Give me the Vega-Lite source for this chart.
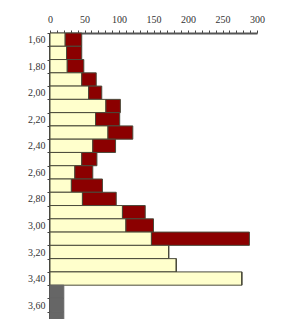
{
  "$schema": "https://vega.github.io/schema/vega-lite/v6.json",
  "width": 207,
  "height": 292,
  "autosize": {"type": "none"},
  "padding": {"left": 50, "top": 33, "right": 43, "bottom": 0},
  "background": "white",
  "config": {
    "view": {"stroke": null},
    "axis": {"labelFont": "Liberation Serif", "labelFontSize": 10, "labelColor": "#333", "tickColor": "#444", "domainColor": "#444", "grid": false, "title": null}
  },
  "data": {
    "values": [
      {"cat": "1,60", "s": "A", "o": 1, "v": 22}, {"cat": "1,60", "s": "B", "o": 2, "v": 24},
      {"cat": "1,70", "s": "A", "o": 1, "v": 24}, {"cat": "1,70", "s": "B", "o": 2, "v": 22},
      {"cat": "1,80", "s": "A", "o": 1, "v": 25}, {"cat": "1,80", "s": "B", "o": 2, "v": 24},
      {"cat": "1,90", "s": "A", "o": 1, "v": 46}, {"cat": "1,90", "s": "B", "o": 2, "v": 21},
      {"cat": "2,00", "s": "A", "o": 1, "v": 56}, {"cat": "2,00", "s": "B", "o": 2, "v": 19},
      {"cat": "2,10", "s": "A", "o": 1, "v": 81}, {"cat": "2,10", "s": "B", "o": 2, "v": 21},
      {"cat": "2,20", "s": "A", "o": 1, "v": 66}, {"cat": "2,20", "s": "B", "o": 2, "v": 35},
      {"cat": "2,30", "s": "A", "o": 1, "v": 84}, {"cat": "2,30", "s": "B", "o": 2, "v": 36},
      {"cat": "2,40", "s": "A", "o": 1, "v": 62}, {"cat": "2,40", "s": "B", "o": 2, "v": 33},
      {"cat": "2,50", "s": "A", "o": 1, "v": 46}, {"cat": "2,50", "s": "B", "o": 2, "v": 22},
      {"cat": "2,60", "s": "A", "o": 1, "v": 36}, {"cat": "2,60", "s": "B", "o": 2, "v": 26},
      {"cat": "2,70", "s": "A", "o": 1, "v": 31}, {"cat": "2,70", "s": "B", "o": 2, "v": 45},
      {"cat": "2,80", "s": "A", "o": 1, "v": 47}, {"cat": "2,80", "s": "B", "o": 2, "v": 49},
      {"cat": "2,90", "s": "A", "o": 1, "v": 105}, {"cat": "2,90", "s": "B", "o": 2, "v": 33},
      {"cat": "3,00", "s": "A", "o": 1, "v": 110}, {"cat": "3,00", "s": "B", "o": 2, "v": 40},
      {"cat": "3,10", "s": "A", "o": 1, "v": 147}, {"cat": "3,10", "s": "B", "o": 2, "v": 142},
      {"cat": "3,20", "s": "A", "o": 1, "v": 172}, {"cat": "3,20", "s": "B", "o": 2, "v": 0},
      {"cat": "3,30", "s": "A", "o": 1, "v": 183}, {"cat": "3,30", "s": "B", "o": 2, "v": 0},
      {"cat": "3,40", "s": "A", "o": 1, "v": 278}, {"cat": "3,40", "s": "B", "o": 2, "v": 0},
      {"cat": "3,50", "s": "W", "o": 3, "v": 20},
      {"cat": "3,60", "s": "W", "o": 3, "v": 20},
      {"cat": "3,70", "s": "W", "o": 3, "v": 20}
    ]
  },
  "encoding": {
    "y": {
      "field": "cat", "type": "ordinal", "sort": null,
      "scale": {"domain": ["1,60","1,70","1,80","1,90","2,00","2,10","2,20","2,30","2,40","2,50","2,60","2,70","2,80","2,90","3,00","3,10","3,20","3,30","3,40","3,50","3,60","3,70"], "paddingInner": 0, "paddingOuter": 0},
      "axis": {"orient": "left", "tickBand": "extent", "tickSize": 3, "labelPadding": 2, "domainWidth": 3, "domainColor": "#444", "labelExpr": "test(/^\\d,[02468]0$/, datum.value) ? datum.value : ''"}
    },
    "x": {
      "field": "v", "type": "quantitative", "stack": "zero",
      "scale": {"domain": [0, 300], "nice": false},
      "axis": {"orient": "top", "values": [0,10,20,30,40,50,60,70,80,90,100,110,120,130,140,150,160,170,180,190,200,210,220,230,240,250,260,270,280,290,300], "labelExpr": "datum.value % 50 == 0 ? datum.label : ''", "tickSize": 3, "labelPadding": 6, "domainWidth": 2, "domainColor": "#555", "labelFlush": false}
    },
    "order": {"field": "o"}
  },
  "layer": [
    {
      "transform": [{"filter": "datum.s != 'W'"}],
      "mark": {"type": "bar", "stroke": "#4a4a3a", "strokeWidth": 1},
      "encoding": {
        "color": {"field": "s", "type": "nominal", "scale": {"domain": ["A", "B"], "range": ["#FFFFCC", "#8B0000"]}, "legend": null}
      }
    },
    {
      "transform": [{"filter": "datum.s == 'W'"}],
      "mark": {"type": "bar", "color": "#666666", "stroke": "#666666", "strokeWidth": 1}
    }
  ]
}
